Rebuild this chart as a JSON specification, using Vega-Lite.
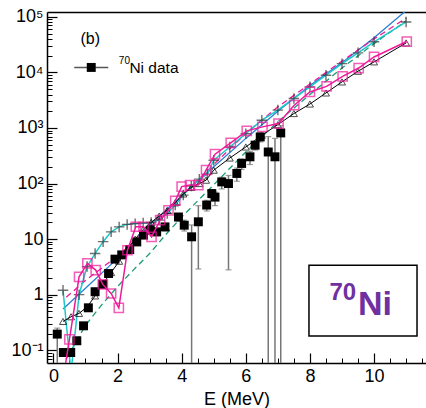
{
  "$schema": "https://vega.github.io/schema/vega-lite/v6.json",
  "width": 379,
  "height": 351,
  "autosize": "none",
  "padding": {"left": 47, "top": 12, "right": 0, "bottom": 45},
  "background": "white",
  "config": {"view": {"stroke": null}, "font": "Liberation Sans"},
  "datasets": {
    "nidata": [
      {"E": 0.12, "v": 0.195, "lo": 0.01, "hi": 0.25},
      {"E": 0.31, "v": 0.091, "lo": 0.08, "hi": 0.1},
      {"E": 0.54, "v": 0.091, "lo": 0.08, "hi": 0.1},
      {"E": 0.73, "v": 0.148, "lo": 0.13, "hi": 0.17},
      {"E": 0.94, "v": 0.275, "lo": 0.24, "hi": 0.31},
      {"E": 1.09, "v": 0.58, "lo": 0.5, "hi": 0.66},
      {"E": 1.3, "v": 1.13, "lo": 1.0, "hi": 1.3},
      {"E": 1.54, "v": 1.53, "lo": 1.35, "hi": 1.75},
      {"E": 1.72, "v": 2.4, "lo": 2.1, "hi": 2.7},
      {"E": 1.92, "v": 4.36, "lo": 3.9, "hi": 4.9},
      {"E": 2.13, "v": 5.2, "lo": 4.6, "hi": 5.8},
      {"E": 2.38, "v": 6.5, "lo": 5.7, "hi": 7.3},
      {"E": 2.6, "v": 8.9, "lo": 7.8, "hi": 10},
      {"E": 2.81, "v": 11.8, "lo": 10.3, "hi": 13.5},
      {"E": 3.02, "v": 14.5, "lo": 12.5, "hi": 16.5},
      {"E": 3.22, "v": 13.5, "lo": 11.5, "hi": 15.5},
      {"E": 3.48, "v": 16.6, "lo": 14, "hi": 19},
      {"E": 3.9, "v": 25, "lo": 21, "hi": 29},
      {"E": 4.08, "v": 17.8, "lo": 14, "hi": 22},
      {"E": 4.31, "v": 11, "lo": 0.01, "hi": 18},
      {"E": 4.52, "v": 20.5, "lo": 2.9, "hi": 40},
      {"E": 4.78, "v": 41, "lo": 32, "hi": 50},
      {"E": 4.94, "v": 66, "lo": 55, "hi": 78},
      {"E": 5.04, "v": 57, "lo": 40, "hi": 70},
      {"E": 5.25, "v": 107, "lo": 80, "hi": 130},
      {"E": 5.46, "v": 100, "lo": 2.8, "hi": 140},
      {"E": 5.72, "v": 152, "lo": 110, "hi": 190},
      {"E": 5.87, "v": 230, "lo": 180, "hi": 280},
      {"E": 6.13, "v": 303, "lo": 220, "hi": 380},
      {"E": 6.29, "v": 490, "lo": 400, "hi": 580},
      {"E": 6.45, "v": 690, "lo": 560, "hi": 820},
      {"E": 6.7, "v": 370, "lo": 0.01, "hi": 700},
      {"E": 6.91, "v": 303, "lo": 0.01, "hi": 650},
      {"E": 7.09, "v": 815, "lo": 0.01, "hi": 1100}
    ],
    "magenta": [
      {"E": 0.3, "v": 0.03},
      {"E": 0.5, "v": 0.157},
      {"E": 0.8, "v": 2.1},
      {"E": 1.06, "v": 3.66},
      {"E": 1.32, "v": 2.77},
      {"E": 1.54, "v": 1.53},
      {"E": 1.8, "v": 1.05},
      {"E": 2.04, "v": 0.58},
      {"E": 2.31, "v": 6.3},
      {"E": 2.57, "v": 16.7},
      {"E": 2.81, "v": 16.7},
      {"E": 3.06, "v": 11},
      {"E": 3.33, "v": 22},
      {"E": 3.59, "v": 33},
      {"E": 3.8, "v": 49},
      {"E": 4.0, "v": 88},
      {"E": 4.26, "v": 94},
      {"E": 4.52, "v": 94},
      {"E": 4.76, "v": 174},
      {"E": 5.04, "v": 338},
      {"E": 5.53, "v": 540},
      {"E": 6.03, "v": 887},
      {"E": 6.52, "v": 1048},
      {"E": 7.02, "v": 1203},
      {"E": 7.51, "v": 2570},
      {"E": 8.0, "v": 4460},
      {"E": 8.52, "v": 5600},
      {"E": 9.02, "v": 8500},
      {"E": 9.52, "v": 12000},
      {"E": 10.0, "v": 19000},
      {"E": 11.02, "v": 36000}
    ],
    "tri": [
      {"E": 0.3, "v": 0.33},
      {"E": 0.55, "v": 0.4},
      {"E": 0.8, "v": 0.46},
      {"E": 1.05, "v": 0.6},
      {"E": 1.3, "v": 0.95},
      {"E": 1.55, "v": 1.6},
      {"E": 1.8, "v": 2.5},
      {"E": 2.05, "v": 4},
      {"E": 2.3, "v": 6.5},
      {"E": 2.55, "v": 10},
      {"E": 2.8, "v": 15},
      {"E": 3.05, "v": 20},
      {"E": 3.3, "v": 26},
      {"E": 3.55, "v": 33},
      {"E": 3.8, "v": 45},
      {"E": 4.05, "v": 65},
      {"E": 4.3, "v": 85},
      {"E": 4.55, "v": 100},
      {"E": 4.76, "v": 115},
      {"E": 5.0, "v": 174},
      {"E": 5.5, "v": 288},
      {"E": 6.0, "v": 455},
      {"E": 6.5, "v": 740},
      {"E": 7.0, "v": 1150},
      {"E": 7.5, "v": 1820},
      {"E": 8.0, "v": 2700},
      {"E": 8.5, "v": 4270},
      {"E": 9.0, "v": 6750},
      {"E": 9.5, "v": 10500},
      {"E": 10.0, "v": 15500},
      {"E": 11.0, "v": 34000}
    ],
    "plus": [
      {"E": 0.3, "v": 1.2},
      {"E": 0.55, "v": 0.04},
      {"E": 0.8, "v": 1.0},
      {"E": 1.05, "v": 3.2},
      {"E": 1.3, "v": 5.5},
      {"E": 1.55, "v": 9},
      {"E": 1.8, "v": 13.5},
      {"E": 2.05, "v": 16.6},
      {"E": 2.3, "v": 18.4},
      {"E": 2.55, "v": 19},
      {"E": 2.8, "v": 19.5},
      {"E": 3.05, "v": 20},
      {"E": 3.3, "v": 22},
      {"E": 3.55, "v": 29},
      {"E": 3.8, "v": 41},
      {"E": 4.05, "v": 62},
      {"E": 4.3, "v": 90},
      {"E": 4.55, "v": 120},
      {"E": 4.8, "v": 148},
      {"E": 5.0, "v": 263},
      {"E": 5.5, "v": 455},
      {"E": 6.0, "v": 790},
      {"E": 6.5, "v": 1380},
      {"E": 7.0, "v": 2100},
      {"E": 7.5, "v": 3400},
      {"E": 8.0, "v": 5500},
      {"E": 8.5, "v": 8900},
      {"E": 9.0, "v": 14400},
      {"E": 9.5, "v": 22500},
      {"E": 10.0, "v": 35600},
      {"E": 11.0, "v": 81000}
    ],
    "blue": [
      {"E": 0.3, "v": 0.55},
      {"E": 1, "v": 1.3},
      {"E": 2, "v": 4.5},
      {"E": 3, "v": 18},
      {"E": 4, "v": 60},
      {"E": 5, "v": 200},
      {"E": 6, "v": 650},
      {"E": 7, "v": 2000},
      {"E": 8, "v": 5800},
      {"E": 9, "v": 15000},
      {"E": 10, "v": 42000},
      {"E": 11, "v": 130000}
    ],
    "greendash": [
      {"E": 0.4, "v": 0.07},
      {"E": 1, "v": 0.28},
      {"E": 1.5, "v": 0.65},
      {"E": 2, "v": 1.4},
      {"E": 2.5, "v": 2.8},
      {"E": 3, "v": 5.5},
      {"E": 3.5, "v": 12},
      {"E": 4, "v": 25},
      {"E": 5, "v": 95},
      {"E": 6, "v": 370},
      {"E": 7, "v": 1300},
      {"E": 8, "v": 4000},
      {"E": 9, "v": 12000},
      {"E": 10, "v": 33000},
      {"E": 11, "v": 85000}
    ],
    "magdash": [
      {"E": 0.4, "v": 0.9},
      {"E": 1, "v": 1.8},
      {"E": 2, "v": 5},
      {"E": 3, "v": 16},
      {"E": 4, "v": 60},
      {"E": 5, "v": 220},
      {"E": 6, "v": 800},
      {"E": 7, "v": 2400},
      {"E": 8, "v": 6200},
      {"E": 9, "v": 16000},
      {"E": 10, "v": 40000},
      {"E": 11, "v": 95000}
    ]
  },
  "layer": [
    {
      "data": {"values": [{"E": 0, "v": 1}]},
      "mark": {"type": "point", "opacity": 0},
      "encoding": {
        "x": {"field": "E", "type": "quantitative", "scale": {"domain": [-0.2, 11.62], "nice": false, "zero": false}, "axis": {"orient": "bottom", "values": [0, 2, 4, 6, 8, 10], "ticks": false, "domain": true, "domainColor": "black", "domainWidth": 1.5, "labelFont": "Liberation Sans", "labelFontSize": 18, "labelColor": "black", "labelPadding": 4, "grid": false, "title": "E (MeV)", "titleFont": "Liberation Sans", "titleFontSize": 18, "titleFontWeight": "normal", "titleColor": "black", "titlePadding": 5}},
        "y": {"field": "v", "type": "quantitative", "scale": {"type": "log", "domain": [0.0589, 122400], "nice": false}, "axis": {"orient": "left", "values": [0.1, 1, 10, 100, 1000, 10000, 100000], "labelExpr": "datum.value == 0.1 ? '10⁻¹' : datum.value == 1 ? '1' : datum.value == 10 ? '10' : datum.value == 100 ? '10²' : datum.value == 1000 ? '10³' : datum.value == 10000 ? '10⁴' : '10⁵'", "ticks": false, "domain": true, "domainColor": "black", "domainWidth": 1.5, "labelFont": "Liberation Sans", "labelFontSize": 18, "labelColor": "black", "labelPadding": 4, "grid": false, "title": null}}
      }
    },
    {
      "data": {"values": [{"E": 0, "v": 1}]},
      "mark": {"type": "point", "opacity": 0},
      "encoding": {
        "x": {"field": "E", "type": "quantitative", "axis": {"orient": "top", "labels": false, "ticks": false, "domain": true, "domainColor": "black", "domainWidth": 1.5, "grid": false, "title": null}},
        "y": {"field": "v", "type": "quantitative", "axis": {"orient": "left", "values": [0.1, 1, 10, 100, 1000, 10000, 100000], "labels": false, "domain": false, "ticks": true, "tickSize": -10, "tickColor": "black", "tickWidth": 1.2, "grid": false, "title": null}}
      }
    },
    {
      "data": {"values": [{"E": 0, "v": 1}]},
      "mark": {"type": "point", "opacity": 0},
      "encoding": {
        "x": {"field": "E", "type": "quantitative", "axis": {"orient": "bottom", "values": [0, 2, 4, 6, 8, 10], "labels": false, "domain": false, "ticks": true, "tickSize": -10, "tickColor": "black", "tickWidth": 1.2, "grid": false, "title": null}},
        "y": {"field": "v", "type": "quantitative", "axis": {"orient": "left", "values": [0.07, 0.08, 0.09, 0.2, 0.3, 0.4, 0.5, 0.6, 0.7, 0.8, 0.9, 2, 3, 4, 5, 6, 7, 8, 9, 20, 30, 40, 50, 60, 70, 80, 90, 200, 300, 400, 500, 600, 700, 800, 900, 2000, 3000, 4000, 5000, 6000, 7000, 8000, 9000, 20000, 30000, 40000, 50000, 60000, 70000, 80000, 90000], "labels": false, "domain": false, "ticks": true, "tickSize": -5, "tickColor": "black", "tickWidth": 1, "grid": false, "title": null}}
      }
    },
    {
      "data": {"values": [{"E": 0, "v": 1}]},
      "mark": {"type": "point", "opacity": 0},
      "encoding": {
        "x": {"field": "E", "type": "quantitative", "axis": {"orient": "bottom", "values": [0.5, 1, 1.5, 2.5, 3, 3.5, 4.5, 5, 5.5, 6.5, 7, 7.5, 8.5, 9, 9.5, 10.5, 11, 11.5], "labels": false, "domain": false, "ticks": true, "tickSize": -5, "tickColor": "black", "tickWidth": 1, "grid": false, "title": null}},
        "y": {"field": "v", "type": "quantitative", "axis": null}
      }
    },
    {
      "encoding": {
        "x": {"field": "E", "type": "quantitative", "axis": null},
        "y": {"field": "v", "type": "quantitative", "axis": null}
      },
      "layer": [
        {
          "data": {"name": "greendash"},
          "mark": {"type": "line", "color": "#1a9a78", "strokeWidth": 1.3, "strokeDash": [6, 4], "clip": true}
        },
        {
          "data": {"name": "blue"},
          "mark": {"type": "line", "color": "#2a7fd6", "strokeWidth": 1.3, "clip": true}
        },
        {
          "data": {"name": "magdash"},
          "mark": {"type": "line", "color": "#f0199a", "strokeWidth": 1.3, "strokeDash": [6, 4], "clip": true}
        },
        {
          "data": {"name": "plus"},
          "mark": {"type": "line", "color": "#1ec8c8", "strokeWidth": 1.5, "clip": true}
        },
        {
          "data": {"name": "plus"},
          "mark": {"type": "point", "shape": "M-1,0H1M0,-1V1", "size": 110, "color": "#333333", "strokeWidth": 1.4, "filled": false, "clip": true}
        },
        {
          "data": {"name": "tri"},
          "mark": {"type": "line", "color": "black", "strokeWidth": 1, "clip": true}
        },
        {
          "data": {"name": "tri"},
          "mark": {"type": "point", "shape": "triangle-up", "size": 50, "color": "black", "strokeWidth": 1, "filled": false, "clip": true}
        },
        {
          "data": {"name": "nidata"},
          "mark": {"type": "rule", "color": "#777777", "strokeWidth": 1.5, "clip": true},
          "encoding": {"y": {"field": "lo", "type": "quantitative", "axis": null}, "y2": {"field": "hi"}}
        },
        {
          "data": {"name": "nidata"},
          "mark": {"type": "tick", "orient": "horizontal", "color": "#777777", "size": 6, "thickness": 1.2, "clip": true},
          "encoding": {"y": {"field": "lo", "type": "quantitative", "axis": null}}
        },
        {
          "data": {"name": "nidata"},
          "mark": {"type": "tick", "orient": "horizontal", "color": "#777777", "size": 6, "thickness": 1.2, "clip": true},
          "encoding": {"y": {"field": "hi", "type": "quantitative", "axis": null}}
        },
        {
          "data": {"name": "nidata"},
          "mark": {"type": "point", "shape": "square", "size": 80, "color": "black", "filled": true, "opacity": 1, "clip": true}
        },
        {
          "data": {"name": "magenta"},
          "mark": {"type": "line", "color": "#f0199a", "strokeWidth": 1.5, "clip": true}
        },
        {
          "data": {"name": "magenta"},
          "mark": {"type": "point", "shape": "square", "size": 85, "color": "#f0199a", "strokeWidth": 1.5, "filled": false, "clip": true}
        }
      ]
    },
    {
      "data": {"values": [{"label": "(b)"}]},
      "mark": {"type": "text", "font": "Liberation Sans", "fontSize": 16, "color": "black", "align": "center", "baseline": "alphabetic"},
      "encoding": {"x": {"datum": 1.15, "type": "quantitative", "axis": null}, "y": {"datum": 32100, "type": "quantitative", "axis": null}, "text": {"field": "label", "type": "nominal"}}
    },
    {
      "data": {"values": [{"label": "leg"}]},
      "mark": {"type": "rule", "color": "#555555", "strokeWidth": 1.5},
      "encoding": {"x": {"datum": 0.65, "type": "quantitative", "axis": null}, "x2": {"datum": 1.71}, "y": {"datum": 12300, "type": "quantitative", "axis": null}}
    },
    {
      "data": {"values": [{"label": "leg"}]},
      "mark": {"type": "point", "shape": "square", "size": 80, "color": "black", "filled": true, "opacity": 1},
      "encoding": {"x": {"datum": 1.18, "type": "quantitative", "axis": null}, "y": {"datum": 12300, "type": "quantitative", "axis": null}}
    },
    {
      "data": {"values": [{"label": "70"}]},
      "mark": {"type": "text", "font": "Liberation Sans", "fontSize": 10, "color": "black", "align": "left", "baseline": "alphabetic"},
      "encoding": {"x": {"datum": 2.04, "type": "quantitative", "axis": null}, "y": {"datum": 14000, "type": "quantitative", "axis": null}, "text": {"field": "label", "type": "nominal"}}
    },
    {
      "data": {"values": [{"label": "Ni data"}]},
      "mark": {"type": "text", "font": "Liberation Sans", "fontSize": 15.5, "color": "black", "align": "left", "baseline": "alphabetic"},
      "encoding": {"x": {"datum": 2.37, "type": "quantitative", "axis": null}, "y": {"datum": 9800, "type": "quantitative", "axis": null}, "text": {"field": "label", "type": "nominal"}}
    },
    {
      "data": {"values": [{"label": "box"}]},
      "mark": {"type": "rect", "fill": "white", "stroke": "black", "strokeWidth": 1.5},
      "encoding": {"x": {"datum": 7.97, "type": "quantitative", "axis": null}, "x2": {"datum": 11.34}, "y": {"datum": 3.4, "type": "quantitative", "axis": null}, "y2": {"datum": 0.18}}
    },
    {
      "data": {"values": [{"label": "70"}]},
      "mark": {"type": "text", "font": "Liberation Sans", "fontSize": 24, "fontWeight": "bold", "color": "#7030a0", "align": "left", "baseline": "alphabetic"},
      "encoding": {"x": {"datum": 8.61, "type": "quantitative", "axis": null}, "y": {"datum": 0.8, "type": "quantitative", "axis": null}, "text": {"field": "label", "type": "nominal"}}
    },
    {
      "data": {"values": [{"label": "Ni"}]},
      "mark": {"type": "text", "font": "Liberation Sans", "fontSize": 34, "fontWeight": "bold", "color": "#7030a0", "align": "left", "baseline": "alphabetic"},
      "encoding": {"x": {"datum": 9.5, "type": "quantitative", "axis": null}, "y": {"datum": 0.43, "type": "quantitative", "axis": null}, "text": {"field": "label", "type": "nominal"}}
    }
  ],
  "resolve": {"axis": {"x": "independent", "y": "independent"}}
}
